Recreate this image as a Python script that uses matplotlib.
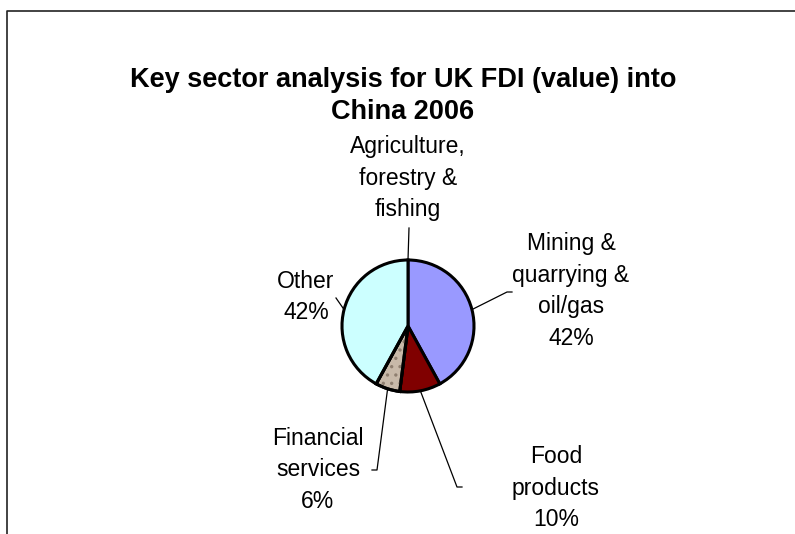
import matplotlib
matplotlib.use('Agg')
import matplotlib.pyplot as plt
from matplotlib.patches import Wedge
import numpy as np

plt.rcParams['font.family'] = ['Liberation Sans', 'DejaVu Sans']
plt.rcParams['hatch.linewidth'] = 1.2

sectors = ['Agriculture,\nforestry &\nfishing', 'Mining &\nquarrying &\noil/gas',
           'Food\nproducts', 'Financial\nservices', 'Other']
shares = [0, 42, 10, 6, 42]
colors = ['#ffffff', '#9999ff', '#800000', '#c8b9a9', '#ccffff']

W, H = 795, 534
# label anchors (text centre, leader end, tick direction) in pixels from the top-left
text_pos = [(408, 178), (571, 291), (556, 488), (318, 470), (306, 297)]
leader_end = [(409, 228), (507, 292), (457, 487), (377, 470), (336, 298)]
tick_dir = [0, 1, 1, -1, 0]
pie_c = (408, 326)
pie_r = 66

fig = plt.figure(figsize=(W / 100, H / 100), dpi=100)
ax = fig.add_axes([0, 0, 1, 1])

def fy(y):
    return H - y

# chart area border (cut off at right and bottom)
ax.plot([7, 7, W], [0, fy(11), fy(11)], color='#222222', lw=1.2)

wedges, _ = ax.pie(shares, colors=colors, startangle=90, counterclock=False,
                   center=(pie_c[0], fy(pie_c[1])), radius=pie_r,
                   wedgeprops=dict(edgecolor='black', linewidth=2.2))
ax.set_xlim(0, W)
ax.set_ylim(0, H)
ax.set_aspect('equal')
ax.axis('off')

# speckled texture on financial services
fin = wedges[3]
ax.add_patch(Wedge(fin.center, fin.r, fin.theta1, fin.theta2, facecolor='none',
                   edgecolor='#8f7f70', hatch='..', lw=0, zorder=fin.get_zorder() + 0.1))
ax.add_patch(Wedge(fin.center, fin.r, fin.theta1, fin.theta2, facecolor='none',
                   edgecolor='black', lw=2.2, zorder=fin.get_zorder() + 0.2))

for w, name, val, (tx, ty), (lx, ly), d in zip(wedges, sectors, shares, text_pos,
                                               leader_end, tick_dir):
    mid = np.deg2rad((w.theta1 + w.theta2) / 2)
    sx = w.center[0] + w.r * np.cos(mid)
    sy = w.center[1] + w.r * np.sin(mid)
    xs = [sx, lx] + ([lx + 5 * d] if d else [])
    ys = [sy, fy(ly)] + ([fy(ly)] if d else [])
    ax.plot(xs, ys, color='black', lw=0.9)
    label = name if val == 0 else f'{name}\n{val}%'
    ax.text(tx, fy(ty), label, ha='center', va='center', fontsize=16.5,
            linespacing=1.48, color='black')

ax.text(403, fy(96), 'Key sector analysis for UK FDI (value) into\nChina 2006',
        ha='center', va='center', fontsize=19.5, fontweight='bold', linespacing=1.3)

fig.savefig('out.png', dpi=100)
